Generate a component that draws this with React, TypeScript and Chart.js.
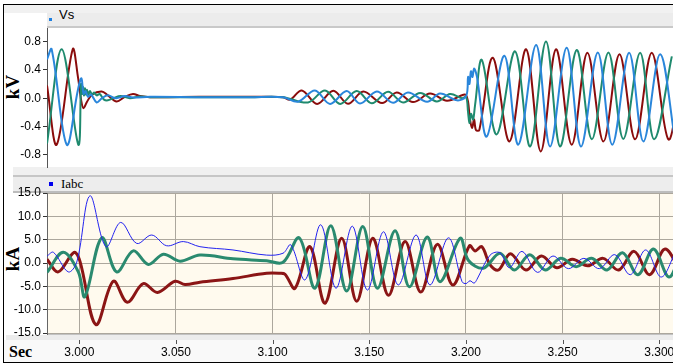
import { useEffect, useRef } from 'react';
import { Chart, registerables } from 'chart.js';
Chart.register(...registerables);

// ---------- axes ----------
const X_MIN = 2.9833;
const X_MAX = 3.3071;
const TIME_TICKS = [3.0, 3.05, 3.1, 3.15, 3.2, 3.25, 3.3];
const VS_TICKS = [-0.8, -0.4, 0, 0.4, 0.8];
const IABC_TICKS = [-15, -10, -5, 0, 5, 10, 15];

// ---------- Vs (kV) : [time s, value] ----------
const VS_A: [number, number][] = [
  [2.9833, 0.55], [2.9857, 0.69], [2.9935, -0.655], [2.9993, 0.12], [3.0011, 0.28], [3.0022, 0.06],
  [3.0032, 0.1], [3.0045, 0.02], [3.0061, 0.05], [3.009, -0.06], [3.0117, 0.0], [3.0148, 0.04],
  [3.019, 0.0], [3.0236, 0.03], [3.0278, 0.01], [3.0366, 0.02], [3.0624, 0.015], [3.0883, 0.015],
  [3.1054, 0.015], [3.1131, -0.05], [3.1219, 0.11], [3.1297, -0.08], [3.1383, 0.1], [3.1452, -0.075],
  [3.1539, 0.095], [3.1623, -0.065], [3.17, 0.08], [3.1799, -0.05], [3.1866, 0.065], [3.1954, -0.03],
  [3.2001, 0.03], [3.2011, 0.3], [3.2018, 0.2], [3.2026, 0.38], [3.2034, 0.3], [3.2042, 0.42],
  [3.2057, 0.3], [3.2108, -0.54], [3.2199, 0.6], [3.2271, -0.655], [3.2363, 0.75], [3.2435, -0.68],
  [3.2521, 0.71], [3.2595, -0.68], [3.2682, 0.645], [3.2757, -0.655], [3.2844, 0.64], [3.2918, -0.61],
  [3.3004, 0.62], [3.3082, -0.6],
];
const VS_B: [number, number][] = [
  [2.9833, -0.64], [2.9909, 0.69], [2.9995, -0.655], [3.0009, 0.2], [3.0014, 0.06], [3.0019, 0.16],
  [3.0024, 0.04], [3.0029, 0.14], [3.0035, 0.05], [3.004, 0.12], [3.0047, 0.05], [3.0055, 0.1],
  [3.0066, 0.05], [3.0076, 0.08], [3.009, 0.04], [3.0105, 0.06], [3.0128, -0.02], [3.0148, -0.03],
  [3.0176, 0.0], [3.0214, 0.03], [3.0262, 0.0], [3.0314, 0.025], [3.0366, 0.015], [3.0624, 0.015],
  [3.0883, 0.015], [3.1054, 0.015], [3.1183, -0.06], [3.1271, 0.11], [3.1349, -0.08], [3.1435, 0.1],
  [3.1513, -0.072], [3.1597, 0.09], [3.1675, -0.06], [3.1763, 0.075], [3.1849, -0.045], [3.1918, 0.06],
  [3.198, 0.0], [3.2001, 0.02], [3.2011, -0.2], [3.2018, -0.35], [3.2026, -0.22], [3.2037, -0.3],
  [3.2047, -0.1], [3.2082, 0.54], [3.2159, -0.51], [3.2254, 0.66], [3.2332, -0.68], [3.2414, 0.8],
  [3.2487, -0.68], [3.2573, 0.68], [3.2651, -0.58], [3.2737, 0.645], [3.2814, -0.575], [3.2901, 0.64],
  [3.2973, -0.58], [3.3065, 0.59],
];
const VS_C: [number, number][] = [
  [2.9833, 0.18], [2.9883, -0.655], [2.9966, 0.69], [2.9993, 0.3], [3.0011, -0.05], [3.0022, -0.14],
  [3.004, -0.05], [3.0066, 0.05], [3.0116, 0.095], [3.0148, 0.04], [3.0193, -0.045], [3.0236, 0.02],
  [3.0278, 0.06], [3.0314, 0.03], [3.0366, 0.015], [3.0624, 0.02], [3.0883, 0.02], [3.1054, 0.015],
  [3.109, -0.02], [3.1151, 0.11], [3.123, -0.08], [3.1314, 0.105], [3.139, -0.078], [3.1469, 0.095],
  [3.1566, -0.068], [3.1642, 0.08], [3.1726, -0.055], [3.1814, 0.065], [3.1902, -0.035], [3.1987, 0.05],
  [3.2001, 0.04], [3.2011, -0.05], [3.2021, -0.3], [3.2032, -0.42], [3.2042, -0.3], [3.2052, -0.45],
  [3.2069, -0.45], [3.2139, 0.57], [3.2225, -0.61], [3.2311, 0.69], [3.2387, -0.75], [3.2466, 0.69],
  [3.2547, -0.655], [3.2628, 0.64], [3.2711, -0.61], [3.2794, 0.62], [3.2875, -0.58], [3.2961, 0.64],
  [3.3047, -0.58], [3.3108, 0.2],
];

// ---------- Iabc (kA) : [time s, value] ----------
const I_A: [number, number][] = [
  [2.9833, 1.5], [2.9866, 2.3], [2.9943, -1.9], [2.9987, 0.2], [3.0055, 14.4], [3.0138, 3.5],
  [3.0214, 8.7], [3.0297, 4.2], [3.0375, 6.0], [3.0452, 3.7], [3.0538, 4.6], [3.0624, 3.5],
  [3.0795, 2.8], [3.0969, 1.7], [3.1054, 2.1], [3.1094, 3.9], [3.1168, -3.6], [3.1249, 8.2],
  [3.1328, -5.4], [3.1412, 7.9], [3.149, -5.8], [3.1573, 6.7], [3.165, -4.7], [3.1742, 6.0],
  [3.1814, -4.7], [3.1909, 5.4], [3.198, -4.0], [3.2001, -4.4], [3.2021, -3.8], [3.2042, -4.3],
  [3.2057, -3.5], [3.2125, 1.7], [3.2176, 2.2], [3.2225, -1.0], [3.229, 2.5], [3.237, -2.0],
  [3.245, 1.5], [3.253, -1.2], [3.261, 1.0], [3.269, -1.2], [3.277, 1.8], [3.285, -2.5],
  [3.293, 2.8], [3.301, -3.0], [3.309, 3.0],
];
const I_B: [number, number][] = [
  [2.9833, -2.0], [2.9917, 2.3], [2.9995, -1.9], [3.0029, -7.2], [3.0116, 5.4], [3.0193, -1.9],
  [3.0279, 2.6], [3.0357, -0.3], [3.0435, 1.9], [3.0521, 0.4], [3.0624, 1.7], [3.0795, 0.9],
  [3.0969, 0.5], [3.1054, 0.15], [3.1138, 5.4], [3.1219, -5.4], [3.1301, 8.0], [3.1383, -6.0],
  [3.1466, 7.8], [3.1542, -5.4], [3.1633, 6.9], [3.1707, -5.1], [3.18, 5.6], [3.1866, -4.0],
  [3.197, 5.3], [3.2012, 0.6], [3.209, -1.1], [3.2176, 2.1], [3.225, -1.5], [3.233, 1.8],
  [3.241, -1.5], [3.249, 1.0], [3.257, -0.8], [3.265, 1.0], [3.273, -1.5], [3.281, 2.2],
  [3.289, -2.5], [3.297, 3.0], [3.305, -3.0], [3.311, 2.0],
];
const I_C: [number, number][] = [
  [2.9833, 0.8], [2.9891, -1.9], [2.9973, 2.3], [3.0004, 0.3], [3.0086, -13.2], [3.0176, -3.9],
  [3.0248, -8.4], [3.0331, -4.4], [3.0404, -6.3], [3.0495, -3.9], [3.0547, -4.6], [3.0624, -4.1],
  [3.0795, -3.3], [3.0969, -2.2], [3.1038, -2.2], [3.1064, -2.4], [3.1116, -5.4], [3.1193, 3.5],
  [3.1271, -8.6], [3.1357, 5.3], [3.1435, -8.2], [3.1518, 5.3], [3.1599, -6.9], [3.1685, 4.6],
  [3.1766, -6.2], [3.1852, 4.0], [3.1932, -4.7], [3.2018, 3.7], [3.2047, 2.6], [3.2082, 3.5],
  [3.2125, -0.4], [3.2168, -1.5], [3.223, 2.0], [3.231, -1.5], [3.239, 1.5], [3.247, -1.0],
  [3.255, 0.8], [3.263, -0.6], [3.271, 1.0], [3.279, -1.5], [3.287, 2.5], [3.295, -2.5],
  [3.303, 3.0], [3.311, -2.0],
];

const TICK_FONT = { family: '"Liberation Sans", Arial, sans-serif', size: 12 };

function toXY(arr: [number, number][]) {
  return arr.map(([x, y]) => ({ x, y }));
}

export default function App() {
  const topRef = useRef<HTMLCanvasElement>(null);
  const botRef = useRef<HTMLCanvasElement>(null);

  useEffect(() => {
    const yFit = (s: any) => {
      s.width = 47;
      s.paddingTop = 0;
      s.paddingBottom = 0;
    };
    const line = (data: [number, number][], color: string, width: number) => ({
      data: toXY(data),
      borderColor: color,
      borderWidth: width,
      pointRadius: 0,
      tension: 0.35,
      fill: false,
    });

    const top = new Chart(topRef.current as HTMLCanvasElement, {
      type: 'line',
      data: {
        datasets: [
          line(VS_A, '#2a86db', 2),
          line(VS_B, '#1f8a6e', 2),
          line(VS_C, '#8a0c0c', 2),
        ],
      },
      options: {
        animation: false,
        responsive: false,
        events: [],
        layout: { padding: { top: 8, bottom: 8, left: 0, right: 0 } },
        plugins: { legend: { display: false }, tooltip: { enabled: false } },
        scales: {
          x: { type: 'linear', min: X_MIN, max: X_MAX, display: false },
          y: {
            type: 'linear',
            min: -0.97,
            max: 0.99,
            afterFit: yFit,
            afterBuildTicks: (s: any) => {
              s.ticks = VS_TICKS.map((v) => ({ value: v }));
            },
            ticks: {
              font: TICK_FONT,
              color: '#000',
              padding: 2,
              callback: (v: any) => Number(v).toFixed(1),
            },
            grid: { drawOnChartArea: false, drawTicks: true, tickLength: 4, color: '#333', tickColor: '#333' },
            border: { display: true, color: '#555' },
          },
        },
      },
    } as any);

    const bgPlugin = {
      id: 'bg',
      beforeDraw(chart: any) {
        const { ctx, chartArea } = chart;
        ctx.save();
        ctx.fillStyle = '#fffaee';
        ctx.fillRect(chartArea.left, chartArea.top, chartArea.right - chartArea.left, chartArea.bottom - chartArea.top);
        ctx.restore();
      },
      afterDraw(chart: any) {
        const { ctx, chartArea, scales } = chart;
        ctx.save();
        ctx.strokeStyle = '#555';
        ctx.lineWidth = 1;
        TIME_TICKS.forEach((t) => {
          const x = Math.round(scales.x.getPixelForValue(t)) + 0.5;
          ctx.beginPath();
          ctx.moveTo(x, chartArea.bottom + 6);
          ctx.lineTo(x, chartArea.bottom + 10);
          ctx.stroke();
        });
        ctx.restore();
      },
    };

    const bot = new Chart(botRef.current as HTMLCanvasElement, {
      type: 'line',
      data: {
        datasets: [
          line(I_A, '#2323f0', 1),
          line(I_B, '#2a8a6f', 3),
          line(I_C, '#8b1515', 3),
        ],
      },
      options: {
        animation: false,
        responsive: false,
        events: [],
        layout: { padding: { top: 8, bottom: 0, left: 0, right: 0 } },
        plugins: { legend: { display: false }, tooltip: { enabled: false } },
        scales: {
          x: {
            type: 'linear',
            min: X_MIN,
            max: X_MAX,
            afterFit: (s: any) => {
              s.height = 30;
              s.paddingLeft = 0;
              s.paddingRight = 0;
            },
            afterBuildTicks: (s: any) => {
              s.ticks = TIME_TICKS.map((v) => ({ value: v }));
            },
            ticks: {
              font: TICK_FONT,
              color: '#000',
              padding: 11,
              maxRotation: 0,
              autoSkip: false,
              callback: (v: any) => Number(v).toFixed(3),
            },
            grid: { drawOnChartArea: true, drawTicks: false, color: '#aca79d', lineWidth: 1 },
            border: { display: false },
          },
          y: {
            type: 'linear',
            min: -15.2,
            max: 15.0,
            afterFit: yFit,
            afterBuildTicks: (s: any) => {
              s.ticks = IABC_TICKS.map((v) => ({ value: v }));
            },
            ticks: {
              font: TICK_FONT,
              color: '#000',
              padding: 2,
              callback: (v: any) => Number(v).toFixed(1),
            },
            grid: { drawOnChartArea: true, drawTicks: true, tickLength: 4, color: '#aca79d', tickColor: '#333' },
            border: { display: true, color: '#666' },
          },
        },
      },
      plugins: [bgPlugin],
    } as any);

    return () => {
      top.destroy();
      bot.destroy();
    };
  }, []);

  const abs = (s: any) => ({ position: 'absolute' as const, ...s });

  return (
    <div style={abs({ left: 0, top: 0, width: 673, height: 364, overflow: 'hidden', background: '#fff' })}>
      {/* frame */}
      <div style={abs({ left: 3, top: 4, width: 670, height: 1, background: '#000' })} />
      <div style={abs({ left: 3, top: 4, width: 1, height: 359, background: '#000' })} />
      <div style={abs({ left: 4, top: 5, width: 669, height: 8, background: '#f1f1f1' })} />
      <div style={abs({ left: 47, top: 13, width: 626, height: 13, background: '#ececec' })} />
      <div style={abs({ left: 47, top: 26, width: 626, height: 2, background: '#c9c9c9' })} />
      {/* between panels */}
      <div style={abs({ left: 13, top: 167, width: 660, height: 8, background: '#f0f0f0' })} />
      <div style={abs({ left: 13, top: 175, width: 660, height: 2, background: '#c6c6c6' })} />
      <div style={abs({ left: 13, top: 177, width: 660, height: 14, background: '#ededed' })} />
      <div style={abs({ left: 13, top: 191, width: 660, height: 2, background: '#bdbdbd' })} />
      {/* bottom axis strip */}
      <div style={abs({ left: 47, top: 333, width: 626, height: 2, background: '#c2c2c2' })} />
      <div style={abs({ left: 6, top: 335, width: 667, height: 5, background: '#ececec' })} />
      <div style={abs({ left: 4, top: 340, width: 669, height: 22, background: '#f9f9f9' })} />
      <div style={abs({ left: 3, top: 362, width: 670, height: 1, background: '#000' })} />

      {/* titles */}
      <div style={abs({ left: 49, top: 18, width: 3, height: 3, background: '#1e7fe0' })} />
      <div style={abs({ left: 59, top: 7, font: '13px "Liberation Sans", Arial, sans-serif', color: '#000', lineHeight: '16px' })}>Vs</div>
      <div style={abs({ left: 49, top: 182, width: 4, height: 4, background: '#0000ee' })} />
      <div style={abs({ left: 61, top: 176, font: '13px "Liberation Serif", "Times New Roman", serif', color: '#000', lineHeight: '16px' })}>Iabc</div>

      {/* axis titles */}
      <div style={abs({ left: 13, top: 87, transform: 'translate(-50%, -50%) rotate(-90deg)', font: 'bold 19px "Liberation Serif", "Times New Roman", serif', whiteSpace: 'nowrap', lineHeight: '20px' })}>kV</div>
      <div style={abs({ left: 13, top: 259, transform: 'translate(-50%, -50%) rotate(-90deg)', font: 'bold 19px "Liberation Serif", "Times New Roman", serif', whiteSpace: 'nowrap', lineHeight: '20px' })}>kA</div>
      <div style={abs({ left: 9, top: 343, font: 'bold 16px "Liberation Serif", "Times New Roman", serif', lineHeight: '18px' })}>Sec</div>

      <canvas ref={topRef} width={673} height={155} style={abs({ left: 0, top: 20, width: 673, height: 155 })} />
      <canvas ref={botRef} width={673} height={179} style={abs({ left: 0, top: 185, width: 673, height: 179 })} />
    </div>
  );
}
